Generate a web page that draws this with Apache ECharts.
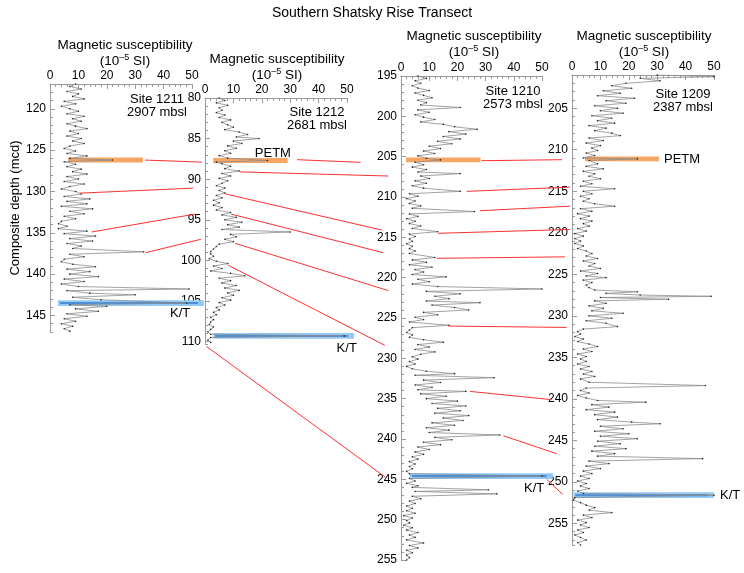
<!DOCTYPE html>
<html><head><meta charset="utf-8">
<script src="https://cdn.jsdelivr.net/npm/echarts@6/dist/echarts.min.js"></script>
<style>html,body{margin:0;padding:0;background:#fff}#c{width:744px;height:573px}</style>
</head><body><div id="c"></div>
<script>
// ---------------- data ----------------
const siteNames = ['Site 1211', 'Site 1212', 'Site 1210', 'Site 1209'];
const siteWaterDepths = ['2907 mbsl', '2681 mbsl', '2573 mbsl', '2387 mbsl'];
const msTicks = [0, 10, 20, 30, 40, 50];
const depthRanges = [[117, 147], [80, 110.3], [195, 255], [201, 257.6]];
const depthLabels1211 = [120, 125, 130, 135, 140, 145];
const depthLabels1212 = [80, 85, 90, 95, 100, 105, 110];
const depthLabels1210 = [195, 200, 205, 210, 215, 220, 225, 230, 235, 240, 245, 250, 255];
const depthLabels1209 = [205, 210, 215, 220, 225, 230, 235, 240, 245, 250, 255];

const depth1211 = [117.0,117.3,117.6,117.9,118.2,118.5,118.8,119.1,119.4,119.7,120.0,120.3,120.6,120.9,121.2,121.5,121.8,122.1,122.4,122.7,123.0,123.3,123.6,123.9,124.2,124.5,124.8,125.1,125.4,125.7,126.0,126.2,126.4,126.7,127.0,127.3,127.6,127.9,128.2,128.5,128.8,129.1,129.4,129.7,130.0,130.3,130.6,130.9,131.2,131.5,131.8,132.1,132.4,132.7,133.0,133.3,133.6,133.9,134.2,134.5,134.8,135.1,135.4,135.7,136.0,136.3,136.6,136.9,137.3,137.6,137.9,138.2,138.5,138.8,139.1,139.4,139.7,140.0,140.3,140.6,140.9,141.2,141.5,141.8,142.0,142.3,142.5,142.8,143.1,143.5,143.7,143.9,144.2,144.5,144.8,145.1,145.4,145.7,146.0,146.3,146.6,146.9];
const ms1211 = [9,7,11,6,10,8,12,5,9,4,7,10,6,12,8,11,6,9,13,7,10,6,11,8,12,7,5,9,6,13,7,22,5,9,6,11,8,13,6,10,5,12,7,4,9,11,5,14,6,13,4,15,7,12,5,9,4,3,6,3,13,5,16,7,15,6,11,8,33,7,12,5,4,8,16,6,14,7,17,5,12,4,10,49,6,14,30,8,18,48,7,20,9,17,6,13,5,9,4,8,5,7];

const depth1212 = [80.0,80.3,80.6,80.9,81.2,81.5,81.8,82.1,82.4,82.7,83.0,83.3,83.6,83.9,84.2,84.5,84.8,85.0,85.3,85.6,85.9,86.2,86.5,86.8,87.1,87.4,87.7,87.9,88.1,88.4,88.7,89.0,89.3,89.6,89.9,90.2,90.5,90.8,91.1,91.4,91.7,92.0,92.3,92.6,92.9,93.2,93.5,93.8,94.1,94.4,94.7,95.0,95.3,95.6,95.9,96.2,96.5,96.8,97.1,97.4,97.7,98.0,98.3,98.6,98.9,99.2,99.5,99.8,100.1,100.4,100.7,101.0,101.3,101.6,101.9,102.2,102.5,102.8,103.1,103.4,103.7,104.0,104.3,104.6,104.9,105.2,105.5,105.8,106.1,106.4,106.7,107.0,107.3,107.6,107.9,108.2,108.5,108.8,109.1,109.3,109.5,109.8,110.1];
const ms1212 = [5,7,4,8,5,6,4,7,5,9,6,8,10,7,12,15,11,19,10,13,8,11,7,9,5,8,22,4,6,9,7,12,6,9,5,8,6,4,7,5,7,4,6,3,5,3,6,4,9,6,11,7,13,8,12,6,30,9,11,7,10,5,4,3,2,2,3,1.5,4,8,3,6,2,9,14,5,9,6,11,7,12,8,10,6,9,5,7,4,5,3,4,2,3,2,1.5,3,2,1,2,49,2,1,2];

const depth1210 = [195.0,195.3,195.6,195.9,196.2,196.5,196.8,197.1,197.4,197.7,198.0,198.3,198.6,198.9,199.2,199.5,199.8,200.1,200.4,200.7,201.0,201.3,201.6,201.9,202.2,202.5,202.8,203.1,203.4,203.7,204.0,204.3,204.6,204.9,205.2,205.4,205.7,206.0,206.3,206.6,206.9,207.1,207.4,207.7,208.0,208.3,208.6,208.9,209.3,209.6,209.9,210.2,210.5,210.8,211.1,211.4,211.8,212.1,212.4,212.7,213.0,213.3,213.6,213.9,214.3,214.6,214.9,215.2,215.5,215.8,216.1,216.4,216.7,217.0,217.5,217.8,218.1,218.4,218.7,219.0,219.3,219.6,219.9,220.2,220.5,220.8,221.1,221.4,221.7,222.0,222.3,222.6,222.9,223.1,223.4,223.7,224.0,224.3,224.6,224.9,225.2,225.5,225.9,226.2,226.5,226.8,227.1,227.4,227.7,228.0,228.3,228.6,228.9,229.2,229.5,229.8,230.1,230.4,230.7,231.0,231.3,231.6,231.9,232.1,232.4,232.7,233.0,233.3,233.6,233.9,234.1,234.4,234.7,235.0,235.3,235.6,235.9,236.2,236.5,236.8,237.1,237.4,237.7,238.0,238.3,238.6,238.9,239.2,239.5,239.8,240.1,240.4,240.7,241.0,241.3,241.6,241.9,242.2,242.5,242.8,243.1,243.4,243.7,244.0,244.3,244.6,244.9,245.2,245.5,245.8,246.0,246.3,246.5,246.8,247.1,247.4,247.7,248.0,248.3,248.6,248.9,249.2,249.5,249.8,250.1,250.4,250.7,251.0,251.3,251.6,251.9,252.2,252.5,252.9,253.2,253.5,253.8,254.1,254.4,254.7,255.0];
const ms1210 = [6,9,5,7,4,6,10,5,8,11,6,9,7,21,6,10,5,8,12,7,15,19,27,17,23,15,21,13,18,10,14,8,12,6,9,14,5,8,4,9,6,21,7,10,5,9,4,8,21,3,6,2,5,3,7,4,26,3,6,2,5,3,7,4,13,3,5,3,4,2,4,3,5,3,12,4,9,3,11,5,8,4,16,6,10,4,13,50,9,21,12,17,9,28,11,19,24,8,13,5,8,3,17,4,3,2,4,3,8,15,6,10,5,12,7,4,6,3,5,2,4,9,19,5,33,8,14,5,11,6,23,7,16,9,20,11,23,13,21,12,24,15,22,11,19,9,17,10,35,12,18,8,14,6,10,5,8,4,6,3,5,3,4,2,3,50,3,5,2,6,4,31,5,34,4,7,3,5,2,4,2,5,1,4,2,3,1,4,2,6,3,5,2,8,3,6,2,4,2,3,2];

const depth1209 = [201.0,201.2,201.4,201.7,202.0,202.3,202.6,202.9,203.2,203.5,203.8,204.1,204.4,204.7,205.0,205.3,205.6,205.9,206.2,206.5,206.8,207.1,207.4,207.7,208.0,208.3,208.6,208.9,209.2,209.5,209.8,210.1,210.4,210.7,211.0,211.1,211.3,211.7,212.0,212.3,212.6,212.9,213.2,213.5,213.8,214.1,214.4,214.7,215.0,215.3,215.6,215.9,216.2,216.5,216.8,217.1,217.4,217.7,218.0,218.3,218.6,218.9,219.2,219.5,219.8,220.1,220.4,220.7,221.0,221.3,221.6,221.9,222.2,222.5,222.8,223.1,223.4,223.7,224.0,224.3,224.6,224.9,225.2,225.4,225.7,226.0,226.3,226.6,226.9,227.1,227.3,227.5,227.65,227.8,228.0,228.2,228.5,228.8,229.1,229.4,229.7,230.0,230.3,230.6,230.9,231.3,231.6,231.9,232.2,232.5,232.8,233.1,233.4,233.7,234.0,234.3,234.6,234.9,235.2,235.5,235.8,236.1,236.4,236.7,237.0,237.3,237.6,238.0,238.4,238.7,239.0,239.3,239.6,239.9,240.2,240.4,240.7,241.0,241.3,241.6,241.9,242.2,242.5,242.8,243.0,243.3,243.6,243.9,244.2,244.5,244.8,245.1,245.4,245.7,246.0,246.3,246.6,246.9,247.2,247.5,247.8,248.1,248.4,248.7,249.0,249.3,249.6,249.9,250.2,250.5,250.8,251.1,251.4,251.6,251.9,252.2,252.5,252.8,253.1,253.4,253.7,254.0,254.3,254.6,254.9,255.2,255.5,255.8,256.1,256.4,256.7,257.0,257.3,257.6];
const ms1209 = [30,50,24,31,19,14,21,11,17,9,22,12,19,8,16,10,18,7,14,9,15,6,12,8,14,17,6,11,5,10,7,9,5,8,4,23,6,9,5,11,4,8,6,10,4,7,3,15,4,7,3,6,4,8,15,3,7,2,6,3,7,4,6,2,5,1,4,1,3,1,4,2,5,7,5,9,4,8,6,10,3,9,5,12,4,7,5,6,8,23,12,24,49,10,34,8,12,6,11,7,18,6,14,5,12,16,4,2,3,1,4,2,6,9,4,7,2,5,3,5,2,6,3,7,4,8,3,6,47,5,3,6,2,5,9,26,7,13,5,15,8,16,9,21,31,10,18,8,20,10,23,9,17,8,19,7,15,9,46,6,13,5,10,4,7,3,6,2,5,3,6,2,4,50,1,0.5,3,5,8,6,14,4,7,2,5,3,6,2,4,1,3,5,2,3];

// event bands: [site index, top depth, bottom depth, MS from, MS to]
const petmBands = [[0,125.9,126.5,6.4,32.7],[1,87.4,88.0,2.9,29.1],[2,205.1,205.7,1.8,28.2],[3,210.8,211.4,4.6,30.6]];
const ktBands = [[0,143.15,143.85,2.8,54.2],[1,108.95,109.65,2.9,52.5],[2,244.25,244.95,3.2,53.8],[3,251.25,251.95,0.5,50]];
// annotation labels: [site index, MS, depth, text, align]
const eventLabels = [[1,23.9,86.8,'PETM','center'],[3,32.4,211.15,'PETM','left'],
  [0,45.8,144.7,'K/T','center'],[1,49.9,110.8,'K/T','center'],[2,47.2,246.1,'K/T','center'],[3,52.1,251.6,'K/T','left']];
// correlation ties: [from site, MS, depth, to site, MS, depth]
const ties = [
  [0,33.5,126.2, 1,-1.1,87.9],[0,10.6,130.2, 1,-4.1,91.1],[0,14.7,134.9, 1,-3.5,94.3],[0,33.7,137.4, 1,-1.4,97.4],
  [1,32.4,87.6, 2,-14.3,205.7],[1,12.3,89.1, 2,-4.5,207.4],[1,7.0,91.8, 2,-6.8,214.1],[1,9.2,94.3, 2,-6.3,216.9],
  [1,10.6,97.9, 2,-4.5,221.6],[1,8.2,100.6, 2,-5.7,228.4],[1,0.5,110.6, 2,-5.7,244.7],
  [2,28.6,205.5, 3,-3.5,211.2],[2,23.3,209.3, 3,-0.7,214.5],[2,28.0,211.7, 3,-0.7,216.8],[2,13.2,214.5, 3,-0.7,219.6],
  [2,12.7,217.6, 3,-2.5,222.9],[2,16.8,226.0, 3,-1.9,231.4],[2,24.5,234.1, 3,-7.1,240.1],[2,36.3,239.6, 3,-5.4,246.6],
  [2,51.7,245.0, 3,-3.3,251.5]
];

// ---------------- layout ----------------
const FONT = '"Liberation Sans", Arial, Helvetica, sans-serif';
const grids = [
  {left: 50, top: 84, width: 142, height: 248},
  {left: 205, top: 98, width: 142, height: 246},
  {left: 401, top: 76, width: 141, height: 484},
  {left: 572, top: 75, width: 142, height: 470}
];
const depthLabels = [depthLabels1211, depthLabels1212, depthLabels1210, depthLabels1209];
const seriesDepth = [depth1211, depth1212, depth1210, depth1209];
const seriesMS = [ms1211, ms1212, ms1210, ms1209];
const titlePos = [[125, 37], [277, 51], [474, 28], [644, 28]];
const sitePos = [[157, 93], [317, 106], [513, 85], [683, 88]];

const axisGray = '#9a9a9a';
const xAxes = grids.map((g, i) => ({
  type: 'value', gridIndex: i, position: 'top', min: 0, max: 50, interval: 10,
  axisLine: {show: true, lineStyle: {color: axisGray, width: 1}},
  axisTick: {show: true, inside: true, length: 5, lineStyle: {color: axisGray}},
  minorTick: {show: true, splitNumber: 5, length: 3, lineStyle: {color: axisGray}},
  axisLabel: {color: '#000', fontSize: 12, fontFamily: FONT, margin: 2,
    customValues: msTicks},
  splitLine: {show: false}
}));
const yAxes = grids.map((g, i) => ({
  type: 'value', gridIndex: i, position: 'left', inverse: true,
  min: depthRanges[i][0], max: depthRanges[i][1],
  axisLine: {show: true, onZero: false, lineStyle: {color: axisGray, width: 1}},
  axisTick: {show: true, inside: true, length: 5, lineStyle: {color: axisGray}, customValues: depthLabels[i]},
  axisLabel: {color: '#000', fontSize: 12, fontFamily: FONT, margin: 4, customValues: depthLabels[i]},
  splitLine: {show: false},
  name: i === 0 ? 'Composite depth (mcd)' : '',
  nameLocation: 'middle', nameGap: 23, nameRotate: 90,
  nameTextStyle: {fontSize: 13, color: '#000', fontFamily: FONT}
}));
const yMinor = grids.map((g, i) => ({
  type: 'value', gridIndex: i, position: 'left', inverse: true,
  min: depthRanges[i][0], max: depthRanges[i][1], interval: 1,
  axisLine: {show: false},
  axisTick: {show: true, inside: true, length: 3, lineStyle: {color: axisGray}},
  axisLabel: {show: false}, splitLine: {show: false}
}));

const titles = [{
  text: 'Southern Shatsky Rise Transect', left: 372, top: 5, textAlign: 'center', padding: 0,
  textStyle: {fontSize: 14, fontWeight: 'normal', color: '#000', fontFamily: FONT, lineHeight: 16}
}];
grids.forEach((g, i) => {
  titles.push({
    text: 'Magnetic susceptibility\n(10{sup|–5} SI)', left: titlePos[i][0], top: titlePos[i][1],
    textAlign: 'center', padding: 0,
    textStyle: {fontSize: 13.5, fontWeight: 'normal', color: '#000', fontFamily: FONT, lineHeight: 16.5,
      rich: {sup: {fontSize: 9, fontFamily: FONT, color: '#000', verticalAlign: 'top', lineHeight: 12}}}
  });
  titles.push({
    text: siteNames[i] + '\n' + siteWaterDepths[i], left: sitePos[i][0], top: sitePos[i][1],
    textAlign: 'center', padding: 0,
    textStyle: {fontSize: 13, fontWeight: 'normal', color: '#000', fontFamily: FONT, lineHeight: 13}
  });
});

const series = grids.map((g, i) => ({
  type: 'line', xAxisIndex: i, yAxisIndex: i,
  data: seriesDepth[i].map((d, k) => [seriesMS[i][k], d]),
  symbol: 'circle', symbolSize: 1.6, showSymbol: true,
  itemStyle: {color: '#222'},
  lineStyle: {color: '#8c8c8c', width: 0.8},
  z: 3, silent: true, animation: false
}));

const chart = echarts.init(document.getElementById('c'), null, {renderer: 'canvas'});
chart.setOption({
  backgroundColor: '#fff',
  animation: false,
  title: titles,
  grid: grids.map(g => Object.assign({outerBoundsMode: 'none', containLabel: false}, g)),
  xAxis: xAxes,
  yAxis: yAxes.concat(yMinor),
  series: series
});

function px(site, ms, depth) {
  return chart.convertToPixel({xAxisIndex: site, yAxisIndex: site}, [ms, depth]);
}
const graphics = [];
petmBands.forEach(b => {
  const p1 = px(b[0], b[3], b[1]), p2 = px(b[0], b[4], b[2]);
  graphics.push({type: 'rect', z: 1, silent: true,
    shape: {x: p1[0], y: p1[1], width: p2[0] - p1[0], height: p2[1] - p1[1]},
    style: {fill: '#f6a563'}});
});
ktBands.forEach(b => {
  const p1 = px(b[0], b[3], b[1]), p2 = px(b[0], b[4], b[2]);
  graphics.push({type: 'rect', z: 1, silent: true,
    shape: {x: p1[0], y: p1[1], width: p2[0] - p1[0], height: p2[1] - p1[1]},
    style: {fill: '#92c9f7'}});
  const mid = (p1[1] + p2[1]) / 2;
  graphics.push({type: 'rect', z: 1, silent: true,
    shape: {x: p1[0] + 2, y: mid - 1, width: p2[0] - p1[0] - 8, height: 2},
    style: {fill: '#4f8fd6'}});
});
ties.forEach(t => {
  const a = px(t[0], t[1], t[2]), b = px(t[3], t[4], t[5]);
  graphics.push({type: 'line', z: 5, silent: true,
    shape: {x1: a[0], y1: a[1], x2: b[0], y2: b[1]},
    style: {stroke: '#ff3030', lineWidth: 1}});
});
eventLabels.forEach(l => {
  const p = px(l[0], l[1], l[2]);
  graphics.push({type: 'text', z: 6, silent: true, x: p[0], y: p[1],
    style: {text: l[3], fill: '#000', font: '13px ' + FONT, align: l[4], verticalAlign: 'middle'}});
});
chart.setOption({graphic: {elements: graphics}});
</script>
</body></html>
